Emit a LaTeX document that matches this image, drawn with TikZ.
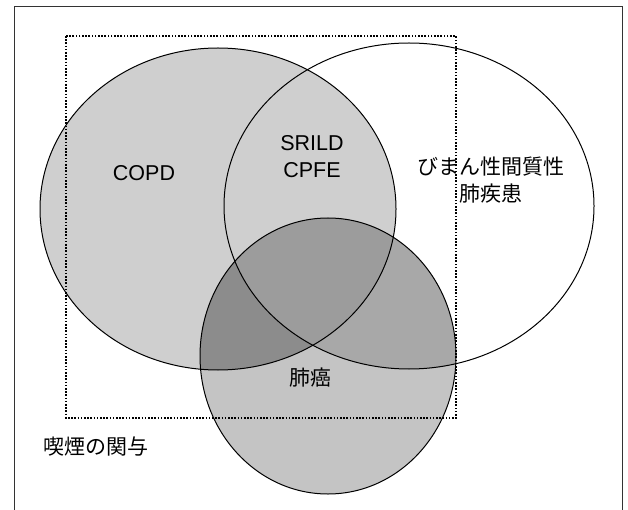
\documentclass[tikz,border=0pt]{standalone}
\usepackage{fontspec}
\setmainfont{Liberation Sans}
\newfontfamily\jp{Noto Sans CJK JP}
\begin{document}
\begin{tikzpicture}[x=1pt,y=-1pt,
  outline/.style={draw=black,line width=1pt},
  lbl/.style={font=\fontsize{21.5}{27}\selectfont,align=center,inner sep=0pt},
  jlbl/.style={font=\fontsize{21}{27}\selectfont\jp,align=center,inner sep=0pt},
  dotbox/.style={draw=black,line width=2pt,dash pattern=on 1.6pt off 1.6pt},
  frame/.style={draw=black!80,line width=1pt}]
\useasboundingbox (0,0) rectangle (628,510);
\fill[white] (0,0) rectangle (628,510);
% fills
\fill[black!19] (218,209) ellipse [x radius=178,y radius=161];
\fill[black!23] (328,356) ellipse [x radius=128,y radius=138];
\begin{scope}
  \clip (328,356) ellipse [x radius=128,y radius=138];
  \fill[black!34] (409,206) ellipse [x radius=185,y radius=163];
\end{scope}
\begin{scope}
  \clip (328,356) ellipse [x radius=128,y radius=138];
  \fill[black!45] (218,209) ellipse [x radius=178,y radius=161];
\end{scope}
\begin{scope}
  \clip (328,356) ellipse [x radius=128,y radius=138];
  \clip (409,206) ellipse [x radius=185,y radius=163];
  \fill[black!39] (218,209) ellipse [x radius=178,y radius=161];
\end{scope}
% outlines
\path[outline] (218,209) ellipse [x radius=178,y radius=161];
\path[outline] (409,206) ellipse [x radius=185,y radius=163];
\path[outline] (328,356) ellipse [x radius=128,y radius=138];
% dotted smoking box
\path[dotbox] (66,36) rectangle (456,418);
% outer frame
\path[frame] (14,512) -- (14,7) -- (622,7) -- (622,512);
% labels
\node[lbl] (copd) at (144,173) {COPD};
\node[lbl] (srild) at (312,157) {SRILD\\CPFE};
\node[jlbl] (ild) at (491,180) {びまん性間質性\\肺疾患};
\node[jlbl] (lc) at (310,378) {肺癌};
\node[jlbl] (smoke) at (96,447) {喫煙の関与};
\end{tikzpicture}
\end{document}
